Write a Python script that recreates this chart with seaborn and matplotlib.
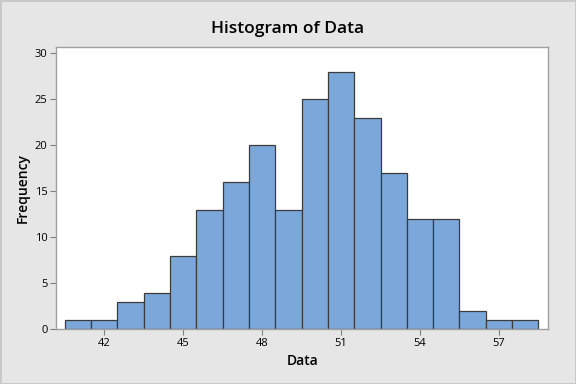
import numpy as np
import pandas as pd
import matplotlib
matplotlib.use("Agg")
import matplotlib.pyplot as plt
import seaborn as sns

# ── DATA ──────────────────────────────────────────────────
bin_centers = [41, 42, 43, 44, 45, 46, 47, 48, 49, 50, 51, 52, 53, 54, 55, 56, 57, 58]
frequency = [1, 1, 3, 4, 8, 13, 16, 20, 13, 25, 28, 23, 17, 12, 12, 2, 1, 1]
x_ticks = [42, 45, 48, 51, 54, 57]
y_ticks = [0, 5, 10, 15, 20, 25, 30]

df = pd.DataFrame({"Data": bin_centers, "count": frequency})

# ── STYLE ─────────────────────────────────────────────────
sns.set_theme(style="white")
plt.rcParams["font.family"] = ["Open Sans", "DejaVu Sans"]
plt.rcParams["text.color"] = "black"
plt.rcParams["axes.labelcolor"] = "black"
plt.rcParams["xtick.labelcolor"] = "black"
plt.rcParams["ytick.labelcolor"] = "black"

BG = "#E6E6E6"
fig = plt.figure(figsize=(5.76, 3.84), dpi=100)
fig.patch.set_facecolor(BG)
fig.patch.set_edgecolor("#C8C8C8")
fig.patch.set_linewidth(2)
ax = fig.add_axes([0.0972, 0.1422, 0.855, 0.735])

sns.histplot(data=df, x="Data", weights="count", binwidth=1, binrange=(40.5, 58.5),
             color="#7BA7DA", alpha=1, edgecolor="#3C3C3C", linewidth=0.9, ax=ax)

ax.set_xlim(40.17, 58.88)
ax.set_ylim(0, 30.65)
ax.set_xticks(x_ticks)
ax.set_yticks(y_ticks)
ax.tick_params(axis="both", which="major", labelsize=8, length=4, width=0.8,
               color="#808080", labelcolor="black", direction="out",
               bottom=True, left=True, pad=2)
for s in ax.spines.values():
    s.set_color("#A0A0A0")
    s.set_linewidth(1)

ax.set_xlabel("Data", fontsize=10, fontweight="semibold", labelpad=4, color="black")
ax.set_ylabel("Frequency", fontsize=10, fontweight="semibold", labelpad=4, color="black")
fig.text(0.5, 0.925, "Histogram of Data", ha="center", va="center",
         fontsize=12.5, fontweight="semibold", color="black")

plt.savefig("out.png", dpi=100, facecolor=fig.get_facecolor(),
            edgecolor=fig.patch.get_edgecolor())
